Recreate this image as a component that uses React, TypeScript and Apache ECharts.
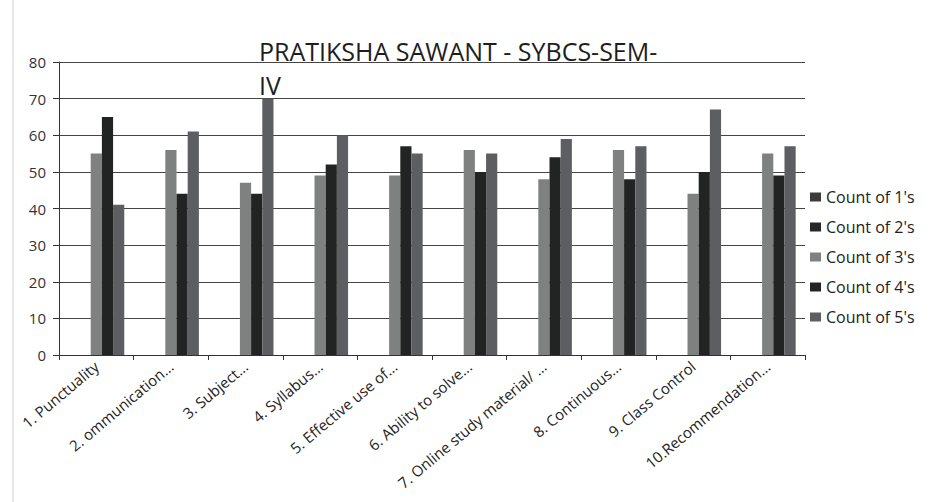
import React, { useEffect, useRef } from "react";
import * as echarts from "echarts";

const categories = [
  "1. Punctuality",
  "2. ommunication...",
  "3. Subject...",
  "4. Syllabus...",
  "5. Effective use of...",
  "6. Ability to solve...",
  "7. Online study material/ ...",
  "8. Continuous...",
  "9. Class Control",
  "10.Recommendation...",
];
const seriesNames = ["Count of 1's", "Count of 2's", "Count of 3's", "Count of 4's", "Count of 5's"];
const count1 = [0, 0, 0, 0, 0, 0, 0, 0, 0, 0];
const count2 = [0, 0, 0, 0, 0, 0, 0, 0, 0, 0];
const count3 = [55, 56, 47, 49, 49, 56, 48, 56, 44, 55];
const count4 = [65, 44, 44, 52, 57, 50, 54, 48, 50, 49];
const count5 = [41, 61, 70, 60, 55, 55, 59, 57, 67, 57];
const yTicks = [0, 10, 20, 30, 40, 50, 60, 70, 80];

const colors = ["#3c3c3c", "#262626", "#7f8181", "#222424", "#5c5e62"];
const FONT = "Open Sans";

export default function App() {
  const ref = useRef<HTMLDivElement>(null);
  useEffect(() => {
    if (!ref.current) return;
    const chart = echarts.init(ref.current, undefined, { renderer: "svg" });
    const data = [count1, count2, count3, count4, count5];
    chart.setOption({
      animation: false,
      backgroundColor: "#ffffff",
      textStyle: { fontFamily: FONT },
      title: {
        text: "PRATIKSHA SAWANT - SYBCS-SEM-\nIV",
        left: 254,
        top: 29,
        textStyle: { fontFamily: FONT, fontSize: 25, fontWeight: "normal", color: "#1e1e1e", lineHeight: 34 },
      },
      legend: {
        orient: "vertical",
        left: 805,
        top: 184,
        itemWidth: 11,
        itemHeight: 9,
        itemGap: 14,
        icon: "rect",
        textStyle: { fontFamily: FONT, fontSize: 16, color: "#222", padding: [0, 0, 0, 0] },
        data: seriesNames,
      },
      grid: { left: 59, right: 129, top: 62, bottom: 147, containLabel: false },
      xAxis: {
        type: "category",
        data: categories,
        axisLine: { lineStyle: { color: "#333", width: 1 } },
        axisTick: { show: true, length: 5, lineStyle: { color: "#333" } },
        axisLabel: { rotate: 40, interval: 0, fontFamily: FONT, fontSize: 15, color: "#222", margin: 9 },
      },
      yAxis: {
        type: "value",
        min: 0,
        max: yTicks[yTicks.length - 1],
        interval: 10,
        axisLine: { show: true, lineStyle: { color: "#333" } },
        axisTick: { show: true, length: 6, lineStyle: { color: "#333" } },
        axisLabel: { fontFamily: FONT, fontSize: 15, color: "#333", margin: 13 },
        splitLine: { show: true, lineStyle: { color: "#444", width: 1 } },
      },
      graphic: [
        { type: "line", shape: { x1: 13, y1: 0, x2: 13, y2: 502 }, style: { stroke: "#cfcfcf", lineWidth: 1 } },
      ],
      series: seriesNames.map((name, i) => ({
        name,
        type: "bar",
        data: data[i],
        barGap: "0%",
        barCategoryGap: "25%",
        itemStyle: { color: colors[i] },
      })),
    });
    return () => chart.dispose();
  }, []);
  return <div ref={ref} style={{ position: "fixed", left: 0, top: 0, width: 934, height: 502 }} />;
}
